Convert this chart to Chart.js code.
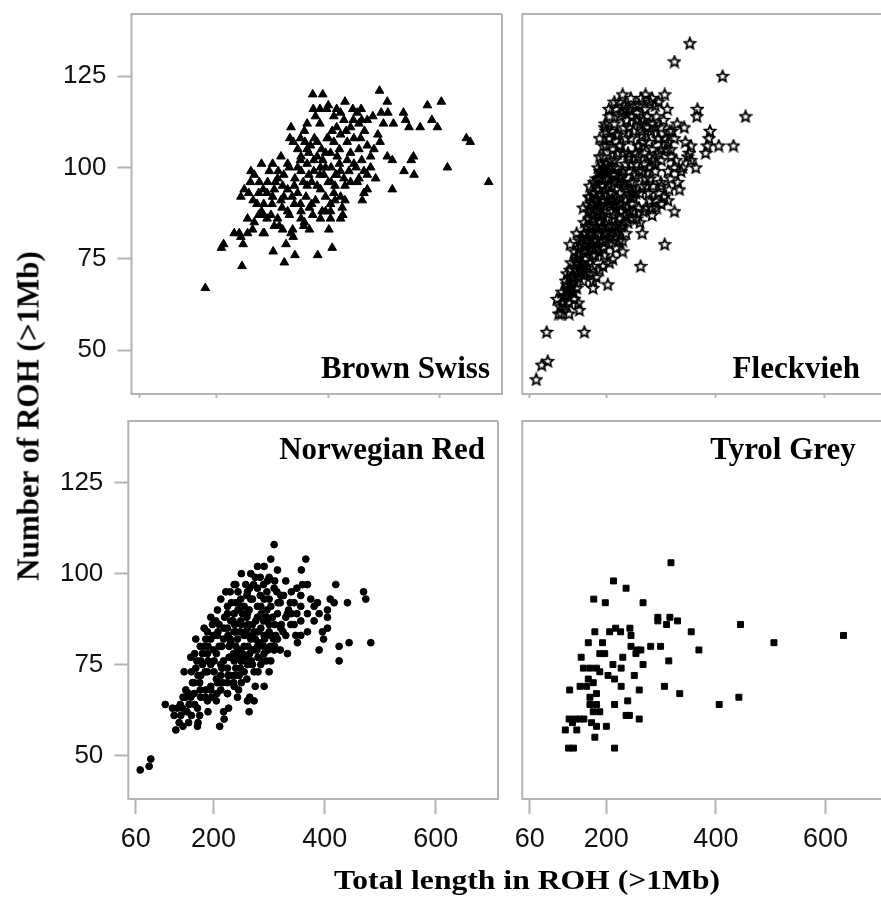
<!DOCTYPE html>
<html lang="en">
<head>
    <meta charset="UTF-8">
    <title>Number and total length of ROH by breed</title>
    <style>
        body {
            margin: 0;
            background: #fff;
            width: 881px;
            height: 911px;
            position: relative;
            overflow: hidden;
        }
        canvas {
            position: absolute;
        }
        .title-anchor {
            position: absolute;
            width: 0;
            height: 0;
        }
        .title-anchor span {
            position: absolute;
            left: 0;
            top: 0;
            white-space: nowrap;
            font-family: 'Liberation Serif', 'Times New Roman', serif;
            font-weight: bold;
            line-height: 1;
            color: #000;
        }
        #xTitle span {
            font-size: 28px;
            transform: translate(-50%, -50%) scaleX(1.13);
        }
        #yTitle span {
            font-size: 31px;
            transform: translate(-50%, -50%) rotate(-90deg);
        }
    </style>
</head>
<body>
    <canvas id="pBrownSwiss" width="470" height="400" style="left:40px;top:0"></canvas>
    <canvas id="pFleckvieh" width="371" height="400" style="left:510px;top:0"></canvas>
    <canvas id="pNorwegianRed" width="470" height="470" style="left:40px;top:400px"></canvas>
    <canvas id="pTyrolGrey" width="371" height="470" style="left:510px;top:400px"></canvas>

    <div class="title-anchor" id="yTitle" style="left:28px;top:416px"><span>Number of ROH (&gt;1Mb)</span></div>
    <div class="title-anchor" id="xTitle" style="left:527px;top:880px"><span>Total length in ROH (&gt;1Mb)</span></div>

    <script src="https://cdn.jsdelivr.net/npm/chart.js"></script>
    <script>
        // axis ticks and panel names
        const xTicks = [60, 200, 400, 600];
        const yTicks = [50, 75, 100, 125];
        const breeds = ['Brown Swiss', 'Fleckvieh', 'Norwegian Red', 'Tyrol Grey'];

        // [total length in ROH, number of ROH]
        const brownSwiss = [
            [179,67],[245,73],[301,77],[321,74],[340,76],[381,76],[407,78],[208,78],[212,79],[247,79],
            [240,82],[255,82],[283,82],[324,79],[337,81],[336,83],[356,84],[372,87],[401,83],[404,86],
            [422,86],[426,87],[461,91],[470,94],[515,94],[536,99],[554,98],[549,102],[553,103],[614,100],
            [688,96],[648,108],[655,107],[578,117],[603,118],[586,113],[596,111],[565,111],[545,111],[535,115],
            [539,113],[517,112],[506,118],[492,121],[507,115],[495,115],[430,118],[390,120],[372,120],[373,116],
            [377,114],[397,116],[410,114],[422,115],[444,116],[459,116],[452,115],[480,114],[499,112],[489,109],
            [493,107],[333,111],[357,110],[331,108],[337,107],[380,107],[368,106],[407,110],[422,109],[398,108],
            [434,107],[446,108],[458,108],[470,106],[482,105],[476,103],[506,103],[515,102],[404,104],[416,103],
            [434,102],[446,101],[422,99],[464,99],[470,98],[485,97],[452,96],[464,93],[315,103],[327,101],
            [351,103],[362,101],[374,102],[386,100],[345,100],[351,99],[374,99],[392,98],[413,98],[428,97],
            [437,99],[294,99],[261,99],[267,98],[276,96],[283,94],[291,96],[309,97],[318,95],[303,94],
            [327,94],[339,95],[362,95],[380,95],[400,96],[412,95],[386,94],[422,92],[412,91],[430,91],
            [404,90],[249,94],[243,92],[257,93],[272,90],[284,90],[299,90],[317,89],[327,88],[339,90],
            [351,88],[366,89],[377,91],[389,88],[255,86],[267,85],[283,87],[297,87],[309,86],[303,84],
            [318,83],[330,87],[351,86],[357,85],[366,83],[386,86],[404,88],[425,89],[264,83],[285,82],
            [312,84],[333,82],[231,82],[243,81],[345,105],[358,107],[385,112],[395,104],[415,111],[428,113],
            [440,111],[455,112],[465,110],[470,113],[440,104],[455,105],[390,102],[365,98],[300,92],[315,91],
            [290,86],[280,88],[345,93],[360,92],[370,90],[395,92],[405,96],[420,101],[430,95],[300,101],
            [310,99],[280,101],[265,91],[275,87],[350,108],[362,105],[375,108],[388,105],[400,108],[410,107],
            [420,105],[432,110],[445,113],[460,113],[385,116],[400,117],[415,116],[362,112],[350,102],[365,104],
            [380,103],[395,100],[405,100],[415,98],[440,96],[450,100],[460,102],[476,100],[455,97],[330,100],
            [340,97],[355,96],[370,96],[385,98],[320,98],[305,96],[290,93],[275,93],[260,96],[320,92],
            [335,92],[350,90],[395,88],[410,93]
        ];

        const fleckvieh = [
            [72,42],[82,46],[93,47],[91,55],[160,55],[113,60],[118,60],[110,64],[149,63],[151,61],
            [119,66],[134,67],[129,65],[176,67],[203,68],[176,69],[263,73],[307,79],[134,72],[152,73],
            [170,74],[194,73],[134,79],[146,82],[164,84],[176,87],[158,89],[182,91],[170,95],[188,99],
            [188,103],[200,106],[197,111],[224,118],[236,116],[254,117],[272,120],[284,119],[307,120],[325,129],
            [353,134],[413,125],[455,114],[367,116],[366,114],[343,111],[316,110],[390,110],[388,108],[406,106],
            [433,106],[385,106],[382,104],[352,104],[355,102],[364,100],[331,96],[334,94],[325,88],[284,87],
            [266,82],[248,86],[230,80],[236,91],[260,89],[290,91],[301,95],[313,99],[301,102],[278,100],
            [254,98],[230,96],[218,100],[242,103],[260,106],[278,107],[296,108],[313,107],[290,111],[266,109],
            [242,111],[218,109],[206,114],[248,114],[272,116],[290,117],[212,105],[200,99],[206,93],[218,89],
            [194,87],[200,82],[218,82],[236,82],[182,80],[170,79],[188,77],[206,79],[158,77],[146,75],
            [128,71],[140,69],[164,71],[188,72],[152,80],[170,82],[182,84],[170,89],[176,93],[182,97],
            [194,95],[212,98],[230,99],[242,99],[248,93],[266,95],[278,93],[272,89],[242,88],[224,86],
            [206,90],[188,89],[224,106],[236,108],[206,108],[254,104],[278,103],[319,103],[325,100],[337,99],
            [349,103],[355,106],[325,108],[301,105],[290,99],[272,97],[254,93],[284,89],[301,90],[313,91],
            [230,77],[212,75],[176,73],[140,66],[125,62],[150,70],[160,72],[145,74],[165,77],[180,76],
            [195,78],[175,79],[155,81],[185,82],[205,84],[160,85],[175,87],[195,88],[215,87],[230,90],
            [250,92],[185,90],[170,92],[190,93],[210,95],[225,93],[245,96],[265,99],[280,97],[190,97],
            [200,101],[215,102],[235,101],[255,101],[270,104],[285,105],[195,103],[205,108],[225,106],[245,108],
            [265,110],[285,112],[305,113],[215,112],[235,117],[255,113],[275,114],[295,108],[310,105],[320,110],
            [260,117],[245,119],[280,118],[200,110],[195,106],[185,100],[178,96],[168,88],[150,78],[138,70],
            [128,68],[120,63],[172,84],[228,98],[240,104],[258,106],[210,91],[222,83],[200,80],[250,88],
            [262,85],[235,95],[290,101],[300,96],[315,94],[340,100],[345,107],[330,112],[296,118],[312,116],
            [205,116],[215,118],[225,114],[232,111],[238,113],[250,110],[262,112],[268,107],[282,110],[292,114],
            [300,111],[308,108],[318,105],[285,102],[270,101],[258,103],[246,101],[232,104],[220,104],[208,102],
            [196,100],[204,97],[214,96],[226,97],[238,94],[250,96],[262,93],[274,95],[286,95],[296,93],
            [306,92],[318,97],[328,102],[296,104],[260,99],[248,90],[236,87],[224,90],[212,88],[200,86],
            [188,85],[180,82],[192,84],[206,81],[216,84],[228,84],[240,85],[256,86],[268,88],[280,91],
            [292,89],[178,90],[186,94],[196,91],[166,81],[160,79],[172,78],[184,79],[196,76],[206,74],
            [218,78],[224,80],[162,75],[154,72],[144,72],[136,68],[146,67],[158,69],[170,71],[182,70],
            [124,65],[132,63],[142,64],[116,62],[132,60],[188,108],[198,112],[210,110],[222,109],[228,115],
            [242,116],[256,115],[268,113],[276,111],[264,119],[230,120],[218,116],[142,70],[148,76],[156,74],
            [163,80],[168,86],[174,82],[178,86],[185,88],[190,87],[193,91],[198,94],[204,91],[210,93],
            [214,90],[220,92],[226,88],[232,85],[238,89],[244,92],[180,93],[186,97],[192,99],[198,97],
            [204,100],[210,100],[216,98],[222,96],[168,92],[174,90],[160,82],[154,79],[148,71],[138,66],
            [130,66],[126,69],[136,74],[142,77],[176,76],[182,78],[192,80],[198,83],[210,84],[216,81]
        ];

        const norwegianRed = [
            [68,46],[84,47],[87,49],[113,64],[132,57],[126,63],[135,63],[144,63],[129,61],[141,61],
            [138,59],[171,58],[172,59],[211,58],[219,60],[218,62],[227,63],[243,66],[261,65],[264,62],
            [273,65],[275,69],[291,69],[150,68],[159,66],[171,63],[177,66],[189,65],[195,68],[165,70],
            [177,72],[147,73],[159,77],[168,74],[189,73],[201,73],[213,72],[225,70],[237,69],[246,72],
            [255,73],[213,68],[225,67],[207,70],[177,76],[189,78],[201,76],[213,75],[225,74],[237,76],
            [249,76],[261,75],[273,73],[285,75],[300,73],[168,82],[183,80],[195,82],[207,83],[213,80],
            [231,81],[243,82],[255,83],[267,82],[279,80],[291,78],[303,76],[309,79],[315,82],[333,78],
            [330,83],[339,86],[348,83],[351,81],[357,87],[369,89],[381,91],[390,89],[405,90],[405,88],
            [396,84],[405,85],[398,82],[390,79],[426,80],[426,76],[444,81],[483,81],[417,92],[441,92],
            [410,93],[420,97],[470,95],[474,93],[360,97],[369,97],[358,101],[366,104],[345,92],[357,91],
            [333,89],[309,108],[303,104],[315,101],[279,102],[291,102],[267,100],[297,98],[309,96],[321,94],
            [330,98],[279,96],[261,95],[237,97],[249,93],[222,95],[213,93],[207,90],[195,88],[225,91],
            [237,89],[249,91],[267,93],[279,91],[291,93],[303,91],[315,89],[297,87],[279,88],[261,89],
            [249,87],[231,87],[219,85],[237,84],[261,85],[273,84],[291,83],[303,83],[321,85],[189,84],
            [183,85],[204,87],[357,94],[375,93],[387,92],[381,87],[369,84],[357,83],[230,82],[240,84],
            [250,86],[260,83],[270,86],[245,79],[255,80],[265,78],[275,82],[285,85],[295,88],[235,87],
            [225,85],[215,80],[205,78],[195,75],[185,73],[175,70],[165,67],[160,73],[150,66],[140,64],
            [230,72],[240,74],[250,70],[260,71],[280,77],[290,80],[300,84],[310,86],[320,92],[300,93],
            [285,91],[270,93],[255,91],[240,92],[225,89],[210,86],[200,83],[190,80],[180,78],[170,76],
            [215,74],[205,71],[195,69],[185,66],[250,76],[270,75],[260,88],[280,84],[240,97],[230,95],
            [290,97],[300,99],[310,98],[250,100],[265,96],[275,99],[260,94],[335,90],[345,86],[325,84],
            [310,80],[295,76],[280,73],[265,66],[245,68],[225,67],[205,65],[190,62],[175,61],[160,61],
            [155,59],[145,58],[228,80],[236,78],[244,77],[252,78],[262,80],[272,79],[282,81],[292,82],
            [302,80],[312,83],[322,86],[330,88],[340,89],[320,79],[300,86],[290,87],[270,83],[258,84],
            [248,84],[238,86],[226,83],[218,82],[210,80],[200,79],[190,76],[180,75],[172,72],[162,70],
            [155,67],[145,66],[218,76],[228,77],[238,72],[248,74],[258,77],[268,76],[278,79],[288,76],
            [298,79],[308,82],[252,89],[264,90],[276,87],[286,89],[296,90],[306,88],[316,92],[326,94],
            [338,92],[350,89],[244,90],[232,92],[220,88],[208,84],[198,86],[186,82],[176,80],[166,78],
            [236,70],[226,72],[216,70],[206,67],[196,66],[186,68],[176,68],[166,64],[156,64],[152,62],
            [240,80],[262,86],[284,94],[296,95],[272,97],[258,97],[244,95],[284,99],[314,95],[340,95],
            [350,96]
        ];

        const tyrolGrey = [
            [318,103],[213,98],[236,96],[177,93],[198,92],[267,92],[294,88],[294,87],[316,88],[310,86],
            [330,87],[355,84],[369,79],[445,86],[506,81],[633,83],[442,66],[406,64],[334,67],[306,69],
            [314,76],[281,80],[299,80],[257,79],[263,79],[245,80],[254,78],[267,75],[251,72],[260,68],
            [260,60],[239,65],[236,61],[242,61],[215,64],[215,52],[179,84],[206,84],[217,85],[226,84],
            [245,83],[243,85],[167,81],[193,81],[188,78],[197,78],[154,77],[170,74],[182,74],[158,74],
            [212,75],[227,74],[230,77],[203,72],[215,71],[227,69],[188,73],[167,71],[176,70],[152,69],
            [164,69],[133,68],[182,67],[170,66],[182,64],[170,64],[188,62],[176,62],[132,60],[143,60],
            [152,60],[159,60],[138,59],[125,57],[146,57],[173,59],[182,58],[200,58],[179,55],[131,52],
            [140,52]
        ];

        const BOX_COLOR = '#b3b3b3';

        // hollow five-pointed star used for Fleckvieh
        function starImage() {
            const c = document.createElement('canvas');
            c.width = 14;
            c.height = 14;
            const g = c.getContext('2d');
            g.beginPath();
            for (let i = 0; i < 10; i++) {
                const r = i % 2 ? 2.6 : 5.8;
                const a = -Math.PI / 2 + i * Math.PI / 5;
                const px = 7 + r * Math.cos(a);
                const py = 7.5 + r * Math.sin(a);
                if (i === 0) g.moveTo(px, py); else g.lineTo(px, py);
            }
            g.closePath();
            g.lineWidth = 1.8;
            g.strokeStyle = '#000';
            g.stroke();
            return c;
        }

        // frame around the plotting area and the breed name inside it
        const panelPlugin = {
            id: 'panelBox',
            beforeDatasetsDraw(chart, args, opts) {
                const { ctx, chartArea: a, width } = chart;
                const right = opts.closed ? a.right : width;
                ctx.save();
                ctx.strokeStyle = BOX_COLOR;
                ctx.lineWidth = 2;
                ctx.beginPath();
                ctx.moveTo(right, a.top);
                ctx.lineTo(a.left, a.top);
                ctx.lineTo(a.left, a.bottom);
                ctx.lineTo(right, a.bottom);
                if (opts.closed) ctx.lineTo(right, a.top);
                ctx.stroke();
                ctx.restore();
            },
            afterDraw(chart, args, opts) {
                const { ctx, chartArea: a } = chart;
                ctx.save();
                ctx.font = 'bold 31px "Liberation Serif", "Times New Roman", serif';
                ctx.fillStyle = '#000';
                ctx.textAlign = 'right';
                ctx.textBaseline = 'alphabetic';
                const y = opts.labelTop ? a.top + opts.dy : a.bottom - opts.dy;
                ctx.fillText(opts.label, a.right - opts.dx, y);
                ctx.restore();
            }
        };

        function makePanel(id, points, marker, p) {
            new Chart(document.getElementById(id), {
                type: 'scatter',
                data: {
                    datasets: [Object.assign({
                        label: p.label,
                        data: points.map(([x, y]) => ({ x, y })),
                        backgroundColor: '#000',
                        borderColor: '#000',
                        borderWidth: 1
                    }, marker)]
                },
                options: {
                    responsive: false,
                    animation: false,
                    events: [],
                    layout: { padding: { top: p.top, right: p.right, left: p.left, bottom: 0 } },
                    plugins: {
                        legend: { display: false },
                        tooltip: { enabled: false },
                        panelBox: { label: p.label, closed: p.closed, labelTop: p.labelTop, dx: p.dx, dy: p.dy }
                    },
                    scales: {
                        x: {
                            type: 'linear',
                            min: 46.5,
                            max: p.xMax,
                            afterBuildTicks: s => { s.ticks = xTicks.map(v => ({ value: v })); },
                            afterFit: s => {
                                s.height = p.xh;
                                s.paddingLeft = 0;
                                s.paddingRight = 0;
                            },
                            border: { display: false },
                            grid: { drawOnChartArea: false, tickLength: p.xTick, tickColor: BOX_COLOR, tickWidth: 2 },
                            ticks: {
                                display: p.xLabels,
                                autoSkip: false,
                                maxRotation: 0,
                                padding: 9,
                                color: '#111',
                                font: { family: "'Liberation Sans', Arial, sans-serif", size: 27 }
                            }
                        },
                        y: {
                            type: 'linear',
                            display: p.yAxis,
                            min: 38,
                            max: 142,
                            afterBuildTicks: s => { s.ticks = yTicks.map(v => ({ value: v })); },
                            afterFit: s => {
                                s.width = p.yw;
                                s.paddingTop = 0;
                                s.paddingBottom = 0;
                            },
                            border: { display: false },
                            grid: { drawOnChartArea: false, tickLength: 14, tickColor: BOX_COLOR, tickWidth: 2 },
                            ticks: {
                                padding: 11,
                                color: '#111',
                                font: { family: "'Liberation Sans', Arial, sans-serif", size: 26 }
                            }
                        }
                    }
                },
                plugins: [panelPlugin]
            });
        }

        makePanel('pBrownSwiss', brownSwiss,
            { pointStyle: 'triangle', pointRadius: 5 },
            { label: breeds[0], top: 14, right: 8, left: 0, yAxis: true, yw: 91.5, xMax: 712,
              xh: 4, xTick: 4, xLabels: false, closed: true, labelTop: false, dx: 12, dy: 16 });

        makePanel('pFleckvieh', fleckvieh,
            { pointStyle: starImage(), pointRadius: 6, borderWidth: 0 },
            { label: breeds[1], top: 14, right: 0, left: 12.3, yAxis: false, yw: 0, xMax: 692,
              xh: 4, xTick: 4, xLabels: false, closed: false, labelTop: false, dx: 15, dy: 16 });

        makePanel('pNorwegianRed', norwegianRed,
            { pointStyle: 'circle', pointRadius: 3.4 },
            { label: breeds[2], top: 21, right: 12, left: 0, yAxis: true, yw: 88.3, xMax: 712,
              xh: 71, xTick: 15, xLabels: true, closed: true, labelTop: true, dx: 13, dy: 38 });

        makePanel('pTyrolGrey', tyrolGrey,
            { pointStyle: 'rect', pointRadius: 4.2 },
            { label: breeds[3], top: 21, right: 0, left: 12.3, yAxis: false, yw: 0, xMax: 692,
              xh: 71, xTick: 15, xLabels: true, closed: false, labelTop: true, dx: 20, dy: 38 });
    </script>
</body>
</html>
